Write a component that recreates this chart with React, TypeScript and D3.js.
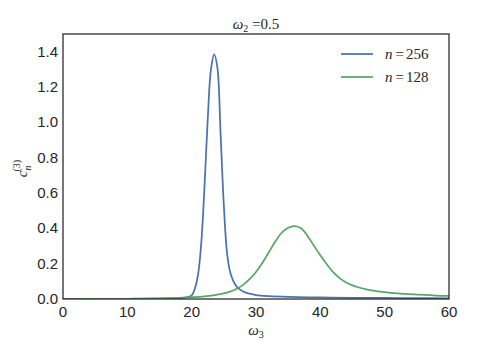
import * as d3 from "d3";

// omega_3 samples and curve heights
const blueX = [0, 10, 15, 18, 19, 20, 20.5, 21, 21.5, 22, 22.5, 23, 23.5, 24, 24.5, 25, 25.5, 26, 26.5, 27, 28, 29, 30, 32, 35, 40, 45, 50, 55, 60];
const blueY = [0, 0.001, 0.002, 0.004, 0.008, 0.02, 0.06, 0.14, 0.32, 0.64, 1.02, 1.3, 1.385, 1.31, 0.93, 0.53, 0.26, 0.15, 0.1, 0.07, 0.042, 0.03, 0.022, 0.016, 0.012, 0.009, 0.007, 0.006, 0.005, 0.004];

const greenX = [0, 10, 12, 15, 18, 20, 22, 24, 26, 27, 28, 29, 30, 31, 32, 33, 34, 35, 36, 37, 38, 39, 40, 41, 42, 43, 44, 45, 46, 47, 48, 50, 52, 55, 58, 60];
const greenY = [0, 0.001, 0.002, 0.004, 0.007, 0.01, 0.015, 0.025, 0.042, 0.058, 0.08, 0.112, 0.153, 0.205, 0.265, 0.325, 0.375, 0.403, 0.412, 0.4, 0.357, 0.302, 0.247, 0.197, 0.152, 0.118, 0.094, 0.077, 0.065, 0.056, 0.049, 0.039, 0.032, 0.025, 0.019, 0.017];

const xTicks = [0, 10, 20, 30, 40, 50, 60];
const yTicks = [0, 0.2, 0.4, 0.6, 0.8, 1.0, 1.2, 1.4];

const seriesNames = ["256", "128"];
const colors = ["#4c72b0", "#55a868"];

const W = 498;
const H = 343;
const margin = { left: 63, right: 49, top: 34, bottom: 44 };

export default function App() {
  const x = d3.scaleLinear().domain([0, 60]).range([margin.left, W - margin.right]);
  const y = d3.scaleLinear().domain([0, 1.5]).range([H - margin.bottom, margin.top]);

  const line = d3
    .line<[number, number]>()
    .x((d) => x(d[0]))
    .y((d) => y(d[1]))
    .curve(d3.curveCatmullRom.alpha(0.5));

  const blue: [number, number][] = blueX.map((v, i) => [v, blueY[i]]);
  const green: [number, number][] = greenX.map((v, i) => [v, greenY[i]]);

  const tickFont = "'Liberation Sans', Arial, sans-serif";
  const mathFont = "'Liberation Serif', 'DejaVu Serif', serif";
  const x0 = x(0), x1 = x(60), y0 = y(0), y1 = y(1.5);

  return (
    <svg width={W} height={H} style={{ position: "absolute", left: 0, top: 0, background: "#fff" }}>
      <defs>
        <clipPath id="plot">
          <rect x={x0} y={y1} width={x1 - x0} height={y0 - y1} />
        </clipPath>
      </defs>
      <g clipPath="url(#plot)">
        <path d={line(blue) ?? ""} fill="none" stroke={colors[0]} strokeWidth={1.75} />
        <path d={line(green) ?? ""} fill="none" stroke={colors[1]} strokeWidth={1.75} />
      </g>
      <rect x={x0} y={y1} width={x1 - x0} height={y0 - y1} fill="none" stroke="#262626" strokeWidth={1.25} />

      {xTicks.map((t) => (
        <text key={t} x={x(t)} y={y0 + 18} textAnchor="middle" fontFamily={tickFont} fontSize={15} fill="#262626">
          {t}
        </text>
      ))}
      {yTicks.map((t) => (
        <text key={t} x={x0 - 5} y={y(t) + 5} textAnchor="end" fontFamily={tickFont} fontSize={15} fill="#262626">
          {t.toFixed(1)}
        </text>
      ))}

      {/* title */}
      <text x={(x0 + x1) / 2} y={y1 - 5} textAnchor="middle" fontFamily={mathFont} fontSize={15} fill="#262626">
        <tspan fontStyle="italic">ω</tspan>
        <tspan fontSize={10} dy={3}>2</tspan>
        <tspan dy={-3}> =0.5</tspan>
      </text>

      {/* x label */}
      <text x={(x0 + x1) / 2} y={y0 + 36} textAnchor="middle" fontFamily={mathFont} fontSize={15} fill="#262626">
        <tspan fontStyle="italic">ω</tspan>
        <tspan fontSize={10} dy={3}>3</tspan>
      </text>

      {/* y label */}
      <text transform={`translate(27, ${(y0 + y1) / 2 + 2}) rotate(-90)`} textAnchor="middle" fontFamily={mathFont} fontSize={15} fill="#262626">
        <tspan fontStyle="italic">c</tspan>
        <tspan fontSize={10} fontStyle="italic" dy={4}>n</tspan>
        <tspan fontSize={10} dx={-6} dy={-11}>(3)</tspan>
      </text>

      {/* legend */}
      {seriesNames.map((n, i) => (
        <g key={n} transform={`translate(341, ${54 + i * 23})`}>
          <line x1={0} x2={32} y1={0} y2={0} stroke={colors[i]} strokeWidth={1.75} />
          <text x={44} y={5} fontFamily={mathFont} fontSize={15} fill="#262626">
            <tspan fontStyle="italic">n</tspan>
            <tspan dx={3}>=</tspan>
            <tspan dx={2}>{n}</tspan>
          </text>
        </g>
      ))}
    </svg>
  );
}
